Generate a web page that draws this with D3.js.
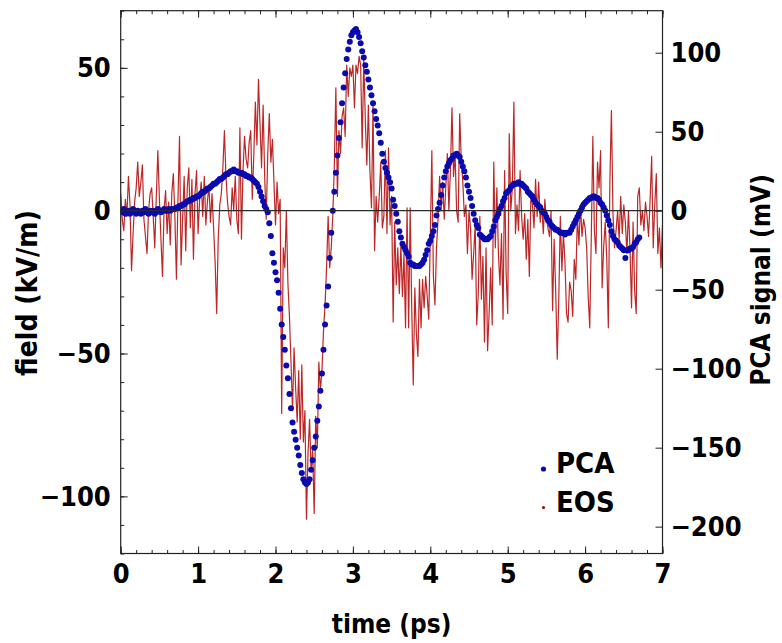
<!DOCTYPE html>
<html>
<head>
<meta charset="utf-8">
<script src="https://cdn.jsdelivr.net/npm/d3@7"></script>
<style>
	body { margin: 0; background: #ffffff; }
	svg text {
		font-family: "DejaVu Sans Condensed", "DejaVu Sans", sans-serif;
		font-weight: bold;
		font-stretch: condensed;
		fill: #000000;
	}
</style>
</head>
<body>
<div id="chart"></div>
<script>

// time axis (ps)
var timeTicks = [0, 1, 2, 3, 4, 5, 6, 7];
var fieldTicks = [-100, -50, 0, 50];
var signalTicks = [-200, -150, -100, -50, 0, 50, 100];

// PCA signal (mV), one point every 0.02 ps from 0 ps
var pcaStart = 0;
var pcaStep = 0.02;
var pcaSignal = [
	0, -1, 1, -2, -1, 0, -2, -1, 1, -1,
	-2, 0, -1, -2, 0, -1, 1, -1, -2, 0,
	-1, 0, -2, -1, 1, 0, -1, 0, 1, 0,
	0, 1, 0, 1, 1, 1, 2, 2, 3, 3,
	4, 4, 5, 6, 6, 7, 7, 8, 8, 9,
	9, 10, 11, 12, 12, 13, 14, 14, 15, 16,
	17, 17, 18, 19, 20, 20, 21, 22, 23, 23,
	24, 25, 25, 26, 25, 25, 24, 24, 24, 23,
	23, 22, 22, 21, 21, 20, 19, 18, 17, 15,
	12, 9, 6, 3, 1, -1, -8, -16, -27, -33,
	-39, -44, -52, -62, -72, -80, -88, -98, -106, -116,
	-125, -134, -140, -145, -150, -155, -161, -166, -170, -172,
	-173, -172, -170, -164, -158, -150, -143, -133, -124, -114,
	-103, -88, -72, -60, -48, -30, -14, 0, 12, 24,
	35, 46, 56, 68, 78, 87, 96, 102, 107, 111,
	113, 114, 115, 113, 110, 106, 101, 97, 92, 88,
	83, 78, 73, 68, 63, 58, 54, 49, 43, 36,
	31, 27, 24, 21, 18, 14, 7, 3, -2, -7,
	-13, -17, -21, -23, -25, -27, -29, -33, -34, -34,
	-35, -35, -35, -35, -34, -33, -31, -28, -25, -21,
	-19, -16, -13, -9, -3, 1, 5, 10, 16, 21,
	25, 28, 30, 32, 33, 35, 35, 36, 35, 34,
	31, 28, 25, 21, 16, 12, 8, 3, -2, -6,
	-9, -11, -15, -16, -17, -18, -18, -18, -17, -16,
	-13, -10, -6, -4, -2, 1, 3, 6, 8, 11,
	12, 13, 15, 16, 17, 17, 17, 18, 17, 17,
	16, 15, 14, 12, 11, 10, 9, 7, 5, 4,
	3, 2, 0, -1, -2, -4, -6, -7, -9, -10,
	-11, -12, -12, -13, -14, -14, -14, -15, -14, -14,
	-14, -12, -10, -8, -6, -4, -2, 0, 2, 4,
	5, 6, 7, 8, 8, 9, 9, 8, 8, 7,
	5, 4, 2, 0, -3, -6, -9, -13, -16, -18,
	-19, -20, -22, -23, -24, -25, -30, -25, -25, -24,
	-24, -23, -21, -20, -18, -17
];

// EOS field (kV/m), one point every 0.02 ps from 0 ps
var eosStart = 0;
var eosStep = 0.02;
var eosField = [
	6, -3, -7, 4, -2, 12, 2, -21, -8, 3,
	8, 17, 5, 10, 16, -3, -9, -15, 0, 6,
	8, -2, -13, 5, 21, 4, -10, -23, 0, 7,
	-8, 3, -12, 6, 13, -2, -24, 4, 26, -19,
	-3, 12, -14, 8, 15, -6, 11, -17, 6, 14,
	-8, 4, 10, -2, 12, -5, 3, 9, -4, 6,
	-6, -18, -36, -10, 2, 6, 15, 28, 12, 3,
	-2, -5, 8, 0, 12, -3, -8, 29, -10, 14,
	26, 18, 15, 24, 28, 4, 20, 38, 23, 46,
	30, 15, 37, 12, -3, 20, 34, 17, 25, 10,
	-5, 10, -1, 4, -71, -13, -20, 0, -25, -37,
	-53, -70, -48, -62, -74, -56, -80, -54, -81, -70,
	-108, -85, -73, -91, -84, -106, -72, -83, -53, -63,
	-56, -42, -33, -20, -2, -20, -13, -2, 16, 43,
	5, 28, 20, 33, 36, 26, 51, 40, 50, 47,
	51, 36, 51, 48, 54, 51, 22, 53, 32, 16,
	37, 14, 1, 37, -14, 5, -4, 5, 17, -6,
	-2, 21, -8, 22, -5, 5, -39, -4, -26, -13,
	-29, -12, -30, -15, -41, 1, -41, 1, -34, -61,
	-27, -43, -51, -24, -41, -24, -34, -23, -30, -38,
	-9, 21, -23, -33, -13, -3, 12, 0, 10, -3,
	8, 20, 0, 14, 36, 12, 20, 0, -4, 34,
	18, 10, -2, 2, -15, 0, -6, -24, -15, -5,
	-40, -29, -2, -31, -16, -46, -13, -49, -36, -20,
	-40, 17, -13, 8, -15, -26, -8, -38, 14, -22,
	-36, 27, 0, 8, 38, -8, 2, -7, 14, -2,
	-10, -1, -17, -3, -23, 6, 2, -6, 11, -2,
	10, -4, 2, -8, 4, -3, -6, -9, 0, -35,
	-10, -28, -52, -31, -2, -21, -8, -18, -36, -39,
	-25, -28, -37, -17, -24, -2, -12, 2, -9, -3,
	-6, -13, -30, -41, -9, 26, -7, -15, 17, 8,
	21, -27, -13, -4, -17, -41, 10, 35, -1, -13,
	-7, 0, -10, 5, -8, 2, -4, -15, 0, -13,
	-34, -4, -28, -36, 5, 8, -5, 0, -7, 3,
	-2, -9, 4, 19, -13, 2, 13, -15, -6, -20,
	-5
];

var legendLabels = ["PCA", "EOS"];

function DualAxisChart(config) {
	var pca = pcaSignal.map((v, i) => ({ t: pcaStart + i * pcaStep, v: v }));
	var eos = eosField.map((v, i) => ({ t: eosStart + i * eosStep, v: v }));

	var svg = d3.select('#chart').append('svg')
		.attr('width', config.width)
		.attr('height', config.height);

	var x = d3.scaleLinear().domain([0, 7]).range([config.left, config.right]);
	var yField = d3.scaleLinear().domain([-120, 70]).range([config.bottom, config.top]);
	var ySignal = d3.scaleLinear().domain([-217, 126.6]).range([config.bottom, config.top]);

	svg.append("clipPath").attr("id", "plotClip")
		.append("rect")
		.attr("x", config.left).attr("y", config.top)
		.attr("width", config.right - config.left)
		.attr("height", config.bottom - config.top);

	var plot = svg.append("g").attr("clip-path", "url(#plotClip)");

	// EOS trace
	var line = d3.line()
		.x(d => x(d.t))
		.y(d => yField(d.v));

	plot.append("path")
		.datum(eos)
		.attr("d", line)
		.attr("fill", "none")
		.attr("stroke", config.eosColor)
		.attr("stroke-width", 1.2)
		.attr("stroke-opacity", 0.85)
		.attr("stroke-linejoin", "round");

	// PCA points
	plot.selectAll(".pca")
		.data(pca)
		.enter().append("circle")
		.attr("class", "pca")
		.attr("cx", d => x(d.t))
		.attr("cy", d => ySignal(d.v))
		.attr("r", 3)
		.attr("fill", config.pcaColor);

	// zero line
	plot.append("line")
		.attr("x1", config.left).attr("x2", config.right)
		.attr("y1", yField(0)).attr("y2", yField(0))
		.attr("stroke", "#2a2a2a")
		.attr("stroke-width", 1.3);

	// frame ticks (pointing inward)
	function styleAxis(g) {
		g.select(".domain").remove();
		g.selectAll(".tick line").attr("stroke", "#222").attr("stroke-width", 1);
		g.selectAll(".tick text")
			.style("font-size", config.tickFont + "px")
			.attr("fill", "#000");
	}

	var minorTime = d3.range(0, 7.001, 0.2);
	var minorField = d3.range(-120, 71, 10);

	svg.append("g")
		.attr("transform", "translate(0," + config.bottom + ")")
		.call(d3.axisBottom(x).tickValues(minorTime).tickSize(-3.5).tickFormat(""))
		.call(styleAxis);
	svg.append("g")
		.attr("transform", "translate(0," + config.bottom + ")")
		.call(d3.axisBottom(x).tickValues(timeTicks).tickSize(-7).tickPadding(10).tickFormat(d3.format("d")))
		.call(styleAxis);
	svg.append("g")
		.attr("transform", "translate(0," + config.top + ")")
		.call(d3.axisTop(x).tickValues(minorTime).tickSize(-3.5).tickFormat(""))
		.call(styleAxis);
	svg.append("g")
		.attr("transform", "translate(0," + config.top + ")")
		.call(d3.axisTop(x).tickValues(timeTicks).tickSize(-7).tickFormat(""))
		.call(styleAxis);

	svg.append("g")
		.attr("transform", "translate(" + config.left + ",0)")
		.call(d3.axisLeft(yField).tickValues(minorField).tickSize(-3.5).tickFormat(""))
		.call(styleAxis);
	svg.append("g")
		.attr("transform", "translate(" + config.left + ",0)")
		.call(d3.axisLeft(yField).tickValues(fieldTicks).tickSize(-7).tickPadding(10).tickFormat(d3.format("d")))
		.call(styleAxis);

	svg.append("g")
		.attr("transform", "translate(" + config.right + ",0)")
		.call(d3.axisRight(ySignal).tickValues(signalTicks).tickSize(-7).tickPadding(8).tickFormat(d3.format("d")))
		.call(styleAxis);

	// frame
	svg.append("rect")
		.attr("x", config.left).attr("y", config.top)
		.attr("width", config.right - config.left)
		.attr("height", config.bottom - config.top)
		.attr("fill", "none")
		.attr("stroke", "#222")
		.attr("stroke-width", 1.2);

	// axis titles
	svg.append("text")
		.attr("x", (config.left + config.right) / 2)
		.attr("y", 633)
		.attr("text-anchor", "middle")
		.style("font-size", config.titleFont + "px")
		.text("time (ps)");

	svg.append("text")
		.attr("transform", "translate(37,293) rotate(-90)")
		.attr("text-anchor", "middle")
		.style("font-size", (config.titleFont + 2) + "px")
		.text("field (kV/m)");

	svg.append("text")
		.attr("transform", "translate(770,280) rotate(-90)")
		.attr("text-anchor", "middle")
		.style("font-size", config.titleFont + "px")
		.text("PCA signal (mV)");

	// legend
	var legendColors = [config.pcaColor, config.eosColor];
	var legendR = [2.6, 1.6];
	legendLabels.forEach((label, i) => {
		var baseY = 473 + i * 38.5;
		svg.append("circle")
			.attr("cx", 543.5)
			.attr("cy", baseY - 4)
			.attr("r", legendR[i])
			.attr("fill", legendColors[i]);
		svg.append("text")
			.attr("x", 556)
			.attr("y", baseY)
			.style("font-size", config.legendFont + "px")
			.text(label);
	});
}

DualAxisChart({
	width      : 782,
	height     : 643,
	left       : 120.7,
	right      : 662.5,
	top        : 10.7,
	bottom     : 553.5,
	pcaColor   : "#0a0aae",
	eosColor   : "#b00000",
	tickFont   : 27,
	titleFont  : 26,
	legendFont : 29
});
</script>
</body>
</html>
